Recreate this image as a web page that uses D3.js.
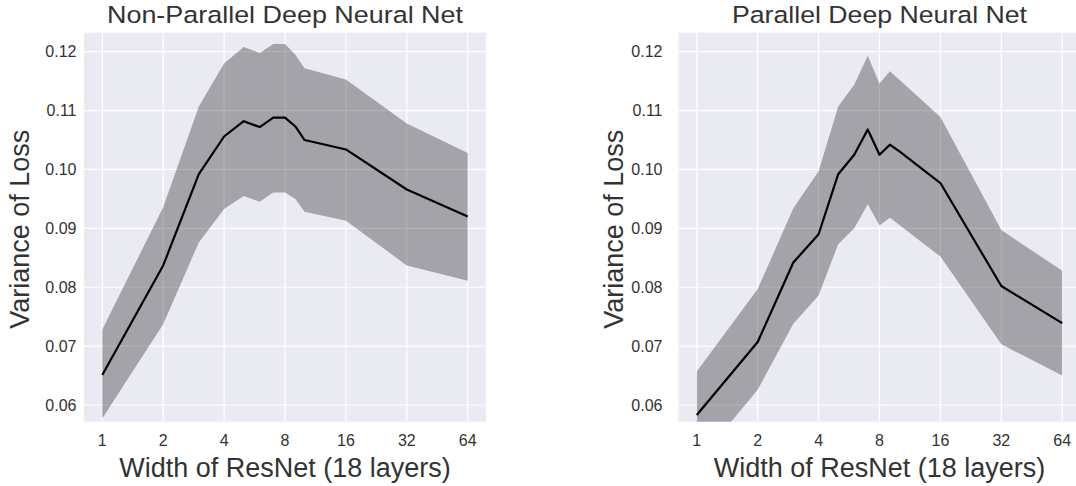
<!DOCTYPE html>
<html>
<head>
<meta charset="utf-8">
<script src="https://cdn.jsdelivr.net/npm/d3@7"></script>
<style>
  body { margin: 0; background: #fff; }
  text { font-family: "Liberation Sans", Arial, sans-serif; fill: #333; }
</style>
</head>
<body>
<svg id="chart" width="1076" height="486"></svg>
<script>
const widths = [1, 2, 3, 4, 5, 6, 7, 8, 9, 10, 16, 32, 64];
const xTicks = [1, 2, 4, 8, 16, 32, 64];
const yTicks = [0.06, 0.07, 0.08, 0.09, 0.10, 0.11, 0.12];

const nonParallelMean  = [0.0651, 0.0837, 0.0992, 0.1056, 0.1082, 0.1072, 0.1088, 0.1088, 0.1073, 0.1050, 0.1034, 0.0966, 0.0920];
const nonParallelUpper = [0.0728, 0.0936, 0.1107, 0.1180, 0.1208, 0.1198, 0.1213, 0.1213, 0.1195, 0.1172, 0.1153, 0.1078, 0.1028];
const nonParallelLower = [0.0577, 0.0737, 0.0876, 0.0933, 0.0955, 0.0945, 0.0961, 0.0961, 0.0950, 0.0928, 0.0913, 0.0837, 0.0811];

const parallelMean  = [0.0583, 0.0707, 0.0842, 0.0890, 0.0992, 0.1025, 0.1068, 0.1025, 0.1042, 0.1031, 0.0977, 0.0802, 0.0739];
const parallelUpper = [0.0657, 0.0797, 0.0934, 0.0997, 0.1107, 0.1144, 0.1193, 0.1146, 0.1167, 0.1153, 0.1089, 0.0897, 0.0828];
const parallelLower = [0.0501, 0.0626, 0.0738, 0.0786, 0.0873, 0.0900, 0.0941, 0.0905, 0.0918, 0.0906, 0.0852, 0.0703, 0.0650];

const svg = d3.select("#chart");

function drawPanel(id, left, tickGap, title, titleLen, mean, upper, lower) {
  let width = 402, top = 32.7, height = 389;

  let x = d3.scaleLog().base(2)
    .domain([Math.pow(2, -0.3), Math.pow(2, 6.3)])
    .range([left, left + width]);

  let y = d3.scaleLinear()
    .domain([0.05716, 0.12323])
    .range([top + height, top]);

  let g = svg.append("g");

  g.append("clipPath")
    .attr("id", "clip-" + id)
    .append("rect")
    .attr("x", left).attr("y", top)
    .attr("width", width).attr("height", height);

  g.append("rect")
    .attr("x", left).attr("y", top)
    .attr("width", width).attr("height", height)
    .attr("fill", "#eaeaf2");

  // grid
  g.selectAll(".xgrid").data(xTicks).enter()
    .append("line")
    .attr("x1", d => x(d)).attr("x2", d => x(d))
    .attr("y1", top).attr("y2", top + height)
    .attr("stroke", "#fff").attr("stroke-width", 1.2);

  g.selectAll(".ygrid").data(yTicks).enter()
    .append("line")
    .attr("x1", left).attr("x2", left + width)
    .attr("y1", d => y(d)).attr("y2", d => y(d))
    .attr("stroke", "#fff").attr("stroke-width", 1.2);

  let plot = g.append("g").attr("clip-path", "url(#clip-" + id + ")");

  let area = d3.area()
    .x((d, i) => x(widths[i]))
    .y0((d, i) => y(lower[i]))
    .y1((d, i) => y(upper[i]));

  plot.append("path")
    .datum(mean)
    .attr("d", area)
    .attr("fill", "#000")
    .attr("fill-opacity", 0.3);

  let line = d3.line()
    .x((d, i) => x(widths[i]))
    .y(d => y(d));

  plot.append("path")
    .datum(mean)
    .attr("d", line)
    .attr("fill", "none")
    .attr("stroke", "#000")
    .attr("stroke-width", 2.2)
    .attr("stroke-linejoin", "round");

  // tick labels
  g.selectAll(".xlab").data(xTicks).enter()
    .append("text")
    .attr("x", d => x(d))
    .attr("y", 445.5)
    .attr("font-size", "16px")
    .attr("text-anchor", "middle")
    .text(d => d);

  g.selectAll(".ylab").data(yTicks).enter()
    .append("text")
    .attr("x", left - tickGap)
    .attr("y", d => y(d))
    .attr("dy", "0.35em")
    .attr("font-size", "16px")
    .attr("text-anchor", "end")
    .text(d => d3.format(".2f")(d));

  g.append("text")
    .attr("x", left + width / 2)
    .attr("y", 22.8)
    .attr("font-size", "24.5px")
    .attr("text-anchor", "middle")
    .attr("textLength", titleLen)
    .attr("lengthAdjust", "spacingAndGlyphs")
    .text(title);

  g.append("text")
    .attr("x", left + width / 2)
    .attr("y", 477)
    .attr("font-size", "27px")
    .attr("text-anchor", "middle")
    .text("Width of ResNet (18 layers)");

  g.append("text")
    .attr("transform", "translate(" + (left - 55.5) + "," + (top + height / 2 + 2) + ") rotate(-90)")
    .attr("font-size", "27px")
    .attr("text-anchor", "middle")
    .text("Variance of Loss");
}

drawPanel("a", 84, 7.5, "Non-Parallel Deep Neural Net", 356, nonParallelMean, nonParallelUpper, nonParallelLower);
drawPanel("b", 678.5, 16, "Parallel Deep Neural Net", 295, parallelMean, parallelUpper, parallelLower);
</script>
</body>
</html>
